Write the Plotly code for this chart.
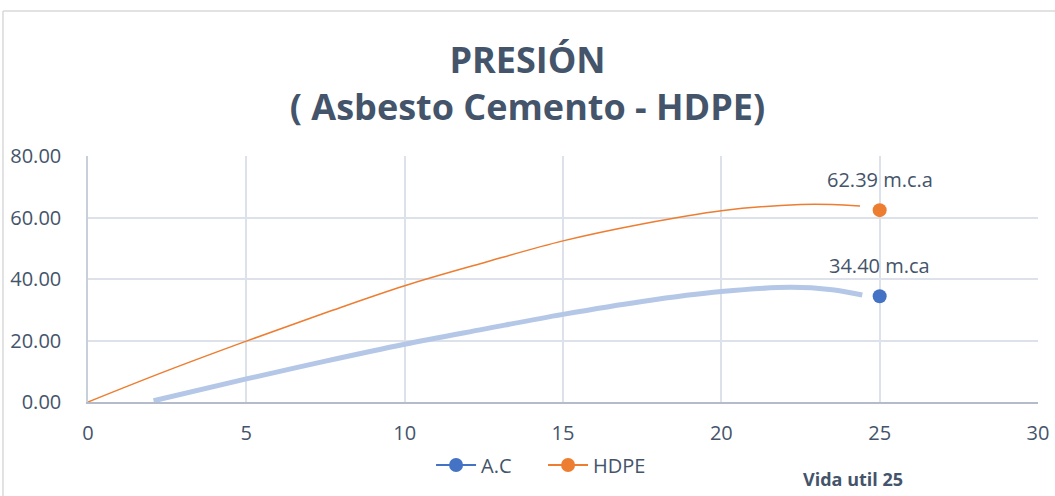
import plotly.graph_objects as go

# Service-life pressure values (m.c.a) at year 25
years = [25]
ac_pressure = [34.40]
hdpe_pressure = [62.39]
point_labels_ac = ["34.40 m.ca"]
point_labels_hdpe = ["62.39 m.c.a"]

# Trend curves (polynomial fit shape) sampled along the years axis
ac_trend_x = [2.07, 5, 7.5, 10, 12.5, 15, 17.5, 20, 22.2, 23.5, 24.45]
ac_trend_y = [0.4, 7.5, 13.3, 18.8, 23.7, 28.5, 32.7, 35.9, 37.3, 36.5, 34.8]
hdpe_trend_x = [0, 2.5, 5, 7.5, 10, 12.5, 15, 17.5, 20, 22.5, 23.5, 24.38]
hdpe_trend_y = [0, 10.2, 19.8, 29.0, 37.8, 45.3, 52.4, 57.9, 62.2, 64.2, 64.2, 63.7]

x_ticks = [0, 5, 10, 15, 20, 25, 30]
y_ticks = [0, 20, 40, 60, 80]

TEXT = "#44546A"
BLUE = "#4472C4"
ORANGE = "#ED7D31"
FONT = "Open Sans"

fig = go.Figure()

fig.add_trace(go.Scatter(
    x=ac_trend_x, y=ac_trend_y, mode="lines", line_shape="spline",
    line=dict(color="#B4C7E7", width=5), showlegend=False, hoverinfo="skip"))
fig.add_trace(go.Scatter(
    x=hdpe_trend_x, y=hdpe_trend_y, mode="lines", line_shape="spline",
    line=dict(color=ORANGE, width=1.5), showlegend=False, hoverinfo="skip"))

fig.add_trace(go.Scatter(
    x=years, y=ac_pressure, mode="markers+lines", name="A.C",
    marker=dict(color=BLUE, size=14), line=dict(color=BLUE, width=2)))
fig.add_trace(go.Scatter(
    x=years, y=hdpe_pressure, mode="markers+lines", name="HDPE",
    marker=dict(color=ORANGE, size=14), line=dict(color=ORANGE, width=2)))

# Data labels above each point
for xv, yv, lab in [(years[0], ac_pressure[0], point_labels_ac[0]),
                    (years[0], hdpe_pressure[0], point_labels_hdpe[0])]:
    fig.add_annotation(x=xv, y=yv, text=lab, showarrow=False, yshift=31,
                       yanchor="middle",
                       font=dict(family=FONT, size=20, color=TEXT))

fig.add_annotation(xref="paper", yref="paper", x=0.805, y=-0.313,
                   xanchor="center", yanchor="middle",
                   text="<b>Vida util 25</b>", showarrow=False,
                   font=dict(family=FONT, size=18, color=TEXT))

# Outer chart frame (top and left edges)
fig.add_shape(type="line", xref="paper", yref="paper",
              x0=-0.0895, x1=1.1, y0=1.589, y1=1.589,
              line=dict(color="#D9D9D9", width=1.5))
fig.add_shape(type="line", xref="paper", yref="paper",
              x0=-0.0895, x1=-0.0895, y0=1.589, y1=-0.5,
              line=dict(color="#D9D9D9", width=1.5))

fig.update_layout(
    width=1055, height=496,
    margin=dict(l=88, r=17, t=156, b=94),
    paper_bgcolor="white", plot_bgcolor="white",
    font=dict(family=FONT, color=TEXT),
    title=dict(text="<b>PRESIÓN</b><br><b>( Asbesto Cemento - HDPE)</b>",
               x=0.5, xanchor="center", y=0.852, yanchor="middle",
               font=dict(family=FONT, size=36, color=TEXT)),
    legend=dict(orientation="h", x=0.479, xanchor="center", y=-0.256,
                yanchor="middle", font=dict(family=FONT, size=20, color=TEXT),
                bgcolor="rgba(0,0,0,0)", itemwidth=40, entrywidth=57),
    showlegend=True,
)

fig.update_xaxes(range=[0, 30], tickvals=x_ticks, ticktext=[str(v) for v in x_ticks],
                 showgrid=True, gridcolor="#DCE1EA", gridwidth=1.5,
                 showline=True, linecolor="#B4BCCB", linewidth=1.5,
                 zeroline=False, ticks="", ticklabelstandoff=12, automargin=False,
                 tickfont=dict(family=FONT, size=20, color=TEXT))
fig.update_yaxes(range=[0, 80], tickvals=y_ticks, ticktext=[f"{v:.2f}" for v in y_ticks],
                 showgrid=True, gridcolor="#DCE1EA", gridwidth=1.5,
                 showline=True, linecolor="#C8CFDA", linewidth=1.5,
                 zeroline=False, ticks="", ticklabelstandoff=21, automargin=False,
                 tickfont=dict(family=FONT, size=20, color=TEXT))

fig.write_html("out.html")
